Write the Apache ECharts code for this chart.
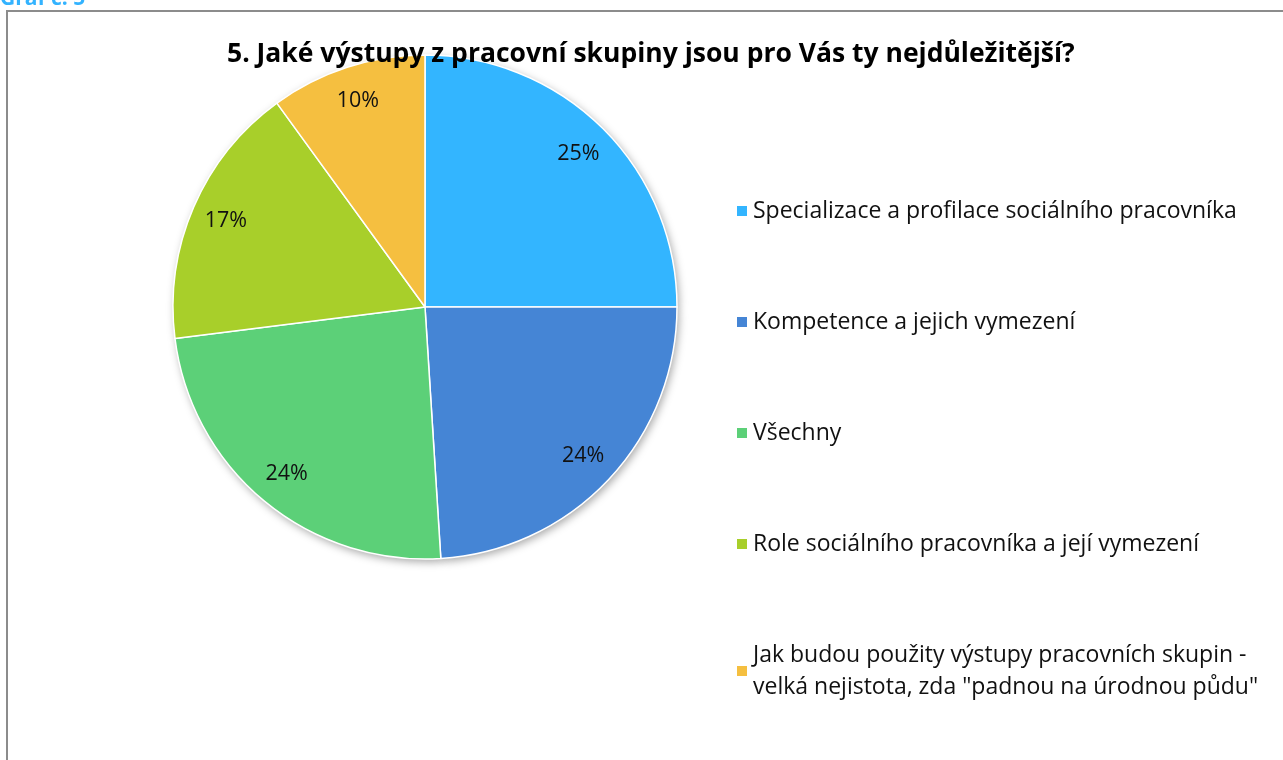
<!DOCTYPE html>
<html>
<head>
<meta charset="utf-8">
<script src="https://cdn.jsdelivr.net/npm/echarts@6/dist/echarts.min.js"></script>
<style>
  html, body { margin: 0; padding: 0; background: #fff; }
  #chart { width: 1283px; height: 760px; }
</style>
</head>
<body>
<div id="chart"></div>
<script>
  // odpovědi a podíly (v %)
  var categories = [
    'Specializace a profilace sociálního pracovníka',
    'Kompetence a jejich vymezení',
    'Všechny',
    'Role sociálního pracovníka a její vymezení',
    'Jak budou použity výstupy pracovních skupin -\nvelká nejistota, zda "padnou na úrodnou půdu"'
  ]
  var values = [25, 24, 24, 17, 10]
  var colors = ['#33b5ff', '#4585d5', '#5cd078', '#a8cf2a', '#f5bf40']

  var pieData = categories.map(function (name, i) {
    return { name: name, value: values[i] }
  })

  var chart = echarts.init(document.getElementById('chart'))
  chart.setOption({
    animation: false,
    color: colors,
    title: {
      text: '5. Jaké výstupy z pracovní skupiny jsou pro Vás ty nejdůležitější?',
      left: 222,
      top: 36,
      textStyle: {
        fontFamily: 'Open Sans',
        fontWeight: 'bold',
        fontSize: 26.5,
        color: '#000'
      }
    },
    legend: {
      orient: 'vertical',
      left: 730,
      top: 190,
      itemWidth: 12,
      itemHeight: 12,
      itemGap: 79,
      icon: 'rect',
      selectedMode: false,
      textStyle: {
        fontFamily: 'Open Sans',
        fontSize: 23,
        lineHeight: 32,
        color: '#111'
      }
    },
    graphic: [
      {
        type: 'rect',
        shape: { x: 7, y: 11, width: 1300, height: 800 },
        style: { fill: 'none', stroke: '#8c8c8c', lineWidth: 2 },
        z: 0
      },
      {
        type: 'text',
        left: 0,
        top: -11,
        style: {
          text: 'Graf č. 5',
          font: 'bold 21px "Open Sans"',
          fill: '#33b3ff'
        }
      }
    ],
    series: [
      {
        name: 'výstupy',
        type: 'pie',
        center: [425, 307],
        radius: 252,
        startAngle: 90,
        clockwise: true,
        z: 2,
        silent: true,
        label: { show: false },
        labelLine: { show: false },
        itemStyle: { borderColor: '#fff', borderWidth: 1.5 },
        data: pieData
      },
      {
        // stín pod koláčem
        name: 'stin',
        type: 'pie',
        center: [425, 307],
        radius: 252,
        startAngle: 90,
        z: 1,
        silent: true,
        label: { show: false },
        labelLine: { show: false },
        itemStyle: {
          color: '#fff',
          shadowBlur: 8,
          shadowOffsetX: 2,
          shadowOffsetY: 3,
          shadowColor: 'rgba(0,0,0,0.35)'
        },
        data: pieData
      },
      {
        // popisky procent
        name: 'popisky',
        type: 'pie',
        center: [425, 307],
        radius: [176, 252],
        startAngle: 90,
        z: 3,
        silent: true,
        itemStyle: { color: 'rgba(0,0,0,0)' },
        label: {
          show: true,
          position: 'inside',
          formatter: '{d}%',
          fontFamily: 'Open Sans',
          fontSize: 21.5,
          color: '#111'
        },
        labelLine: { show: false },
        data: pieData
      }
    ]
  })
</script>
</body>
</html>
